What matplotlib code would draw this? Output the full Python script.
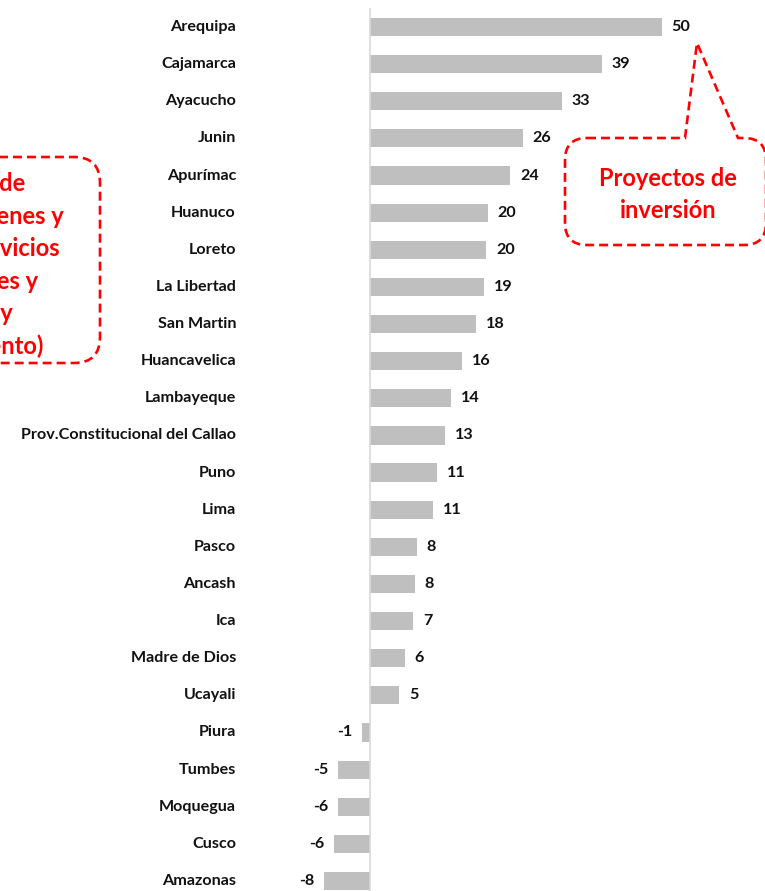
import numpy as np
import matplotlib.pyplot as plt
from matplotlib.path import Path
from matplotlib.patches import PathPatch
from matplotlib.transforms import blended_transform_factory

plt.rcParams['font.family'] = ['Lato', 'DejaVu Sans']

# Datos por región
regiones = ['Arequipa', 'Cajamarca', 'Ayacucho', 'Junin', 'Apurímac', 'Huanuco', 'Loreto',
            'La Libertad', 'San Martin', 'Huancavelica', 'Lambayeque',
            'Prov.Constitucional del Callao', 'Puno', 'Lima', 'Pasco', 'Ancash', 'Ica',
            'Madre de Dios', 'Ucayali', 'Piura', 'Tumbes', 'Moquegua', 'Cusco', 'Amazonas']
valores = [50.0, 39.7, 32.9, 26.2, 24.0, 20.2, 19.9, 19.5, 18.2, 15.8, 13.9, 12.8, 11.5,
           10.8, 8.0, 7.7, 7.4, 6.0, 5.0, -1.3, -5.5, -5.5, -6.2, -7.9]
etiquetas = ['50', '39', '33', '26', '24', '20', '20', '19', '18', '16', '14', '13', '11',
             '11', '8', '8', '7', '6', '5', '-1', '-5', '-6', '-6', '-8']

nota_izq = ['Adquisición de', 'bienes y', 'servicios', '(corrientes y', 'capital y',
            'mantenimiento)']
nota_der = ['Proyectos de', 'inversión']

W, H = 765, 891
fig = plt.figure(figsize=(W / 100, H / 100), dpi=100)

# eje: cero en x=370 px, 5.84 px por unidad
x_min, x_max = -10, 62
px_unit = 5.84
left = (370 - (0 - x_min) * px_unit) / W
width = (x_max - x_min) * px_unit / W
paso = 37.13
top_px = 27 - 0.5 * paso
alto_px = len(regiones) * paso
ax = fig.add_axes([left, (H - top_px - alto_px) / H, width, alto_px / H])

y = np.arange(len(regiones))
ax.barh(y, valores, height=0.49, color='#bfbfbf')
ax.axvline(0, color='#d9d9d9', lw=1.2)
ax.set_xlim(x_min, x_max)
ax.set_ylim(len(regiones) - 0.5, -0.5)
ax.axis('off')

fs = 11.6
trans = blended_transform_factory(fig.transFigure, ax.transData)
for i, (reg, v, lab) in enumerate(zip(regiones, valores, etiquetas)):
    ax.text(236 / W, i, reg, transform=trans, ha='right', va='center',
            fontsize=fs, fontweight='bold', color='#111111')
    if v >= 0:
        ax.annotate(lab, (v, i), xytext=(7, 0), textcoords='offset points',
                    ha='left', va='center', fontsize=fs, fontweight='bold', color='#111111')
    else:
        ax.annotate(lab, (v, i), xytext=(-7, 0), textcoords='offset points',
                    ha='right', va='center', fontsize=fs, fontweight='bold', color='#111111')


def caja(x0, y0, x1, y1, r, pico=None):
    # rectángulo redondeado en píxeles (y hacia abajo), con pico opcional en el borde superior
    pts = [(x0 + r, y0)]
    codes = [Path.MOVETO]
    if pico is not None:
        a, b, tip = pico
        pts += [(a, y0), tip, (b, y0)]
        codes += [Path.LINETO] * 3
    pts += [(x1 - r, y0), (x1, y0), (x1, y0 + r),
            (x1, y1 - r), (x1, y1), (x1 - r, y1),
            (x0 + r, y1), (x0, y1), (x0, y1 - r),
            (x0, y0 + r), (x0, y0), (x0 + r, y0)]
    codes += [Path.LINETO, Path.CURVE3, Path.CURVE3] * 4
    pts = [(px / W, 1 - py / H) for px, py in pts]
    return PathPatch(Path(pts, codes), transform=fig.transFigure, fill=False,
                     edgecolor='#ff0000', lw=1.9, linestyle=(0, (3.4, 1.9)), clip_on=False)


fig.patches.append(caja(565, 138, 766, 245, 22, pico=(685, 738, (697, 43))))
fig.patches.append(caja(-60, 157, 100, 363, 26))

for linea, yb in zip(nota_der, [186, 218]):
    fig.text(668 / W, 1 - yb / H, linea, ha='center', va='baseline',
             fontsize=17, fontweight='bold', color='#ff0000')

fin_x = [25, 64, 60, 38, 13, 44]
base_y = [191, 224, 256, 289, 321, 354]
for linea, xe, yb in zip(nota_izq, fin_x, base_y):
    fig.text(xe / W, 1 - yb / H, linea, ha='right', va='baseline',
             fontsize=17, fontweight='bold', color='#ff0000')

fig.savefig('out.png', dpi=100)
